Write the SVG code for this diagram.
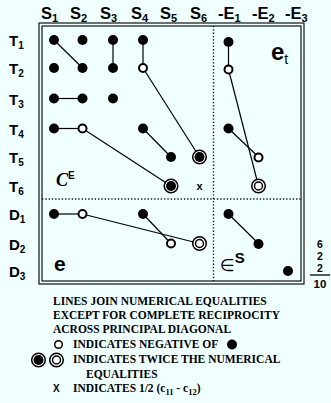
<svg xmlns="http://www.w3.org/2000/svg" width="331" height="403" viewBox="0 0 331 403">
<style>
.bg{fill:#F0FFFF}
.frame{fill:none;stroke:#111;stroke-width:1.2}
.div{stroke:#111;stroke-width:1.4;stroke-dasharray:1.3 2;fill:none}
.ln{stroke:#000;stroke-width:1.2;fill:none}
.f{fill:#000}
.o{fill:#fff;stroke:#000;stroke-width:2}
.dr{fill:#fff;stroke:#000;stroke-width:1.5}
.h{font-family:"Liberation Sans",Arial,sans-serif;font-weight:bold;font-size:15px;fill:#000}
.hh{font-size:16.5px}
.sub{font-size:10px}
.hh .sub{font-size:11px}
.lg{font-family:"Liberation Serif","Times New Roman",serif;font-weight:bold;font-size:11.5px;fill:#000}
.num{font-family:"Liberation Sans",Arial,sans-serif;font-weight:bold;font-size:10.5px;text-anchor:middle;fill:#000}
</style>
<defs>
<circle id="dot" r="5" class="f"/>
<circle id="open" r="4" class="o"/>
<g id="dfill"><circle r="6.8" class="dr"/><circle r="5" class="f"/></g>
<g id="dopen"><circle r="6.8" class="dr"/><circle r="4" class="dr"/></g>
</defs>
<rect class="bg" x="0" y="0" width="331" height="403"/>

<g id="headers" class="h hh">
<text x="41" y="19">S<tspan class="sub" dy="3">1</tspan></text>
<text x="70" y="19">S<tspan class="sub" dy="3">2</tspan></text>
<text x="100" y="19">S<tspan class="sub" dy="3">3</tspan></text>
<text x="131" y="19">S<tspan class="sub" dy="3">4</tspan></text>
<text x="160" y="19">S<tspan class="sub" dy="3">5</tspan></text>
<text x="190" y="19">S<tspan class="sub" dy="3">6</tspan></text>
<text x="218" y="19">-E<tspan class="sub" dy="3">1</tspan></text>
<text x="252" y="19">-E<tspan class="sub" dy="3">2</tspan></text>
<text x="285" y="19">-E<tspan class="sub" dy="3">3</tspan></text>
</g>
<g id="rowlabels" class="h">
<text x="9" y="46">T<tspan class="sub" dy="3">1</tspan></text>
<text x="9" y="74">T<tspan class="sub" dy="3">2</tspan></text>
<text x="9" y="104.5">T<tspan class="sub" dy="3">3</tspan></text>
<text x="9" y="134.5">T<tspan class="sub" dy="3">4</tspan></text>
<text x="9" y="163">T<tspan class="sub" dy="3">5</tspan></text>
<text x="9" y="192">T<tspan class="sub" dy="3">6</tspan></text>
<text x="9" y="220">D<tspan class="sub" dy="3">1</tspan></text>
<text x="9" y="249.5">D<tspan class="sub" dy="3">2</tspan></text>
<text x="9" y="277">D<tspan class="sub" dy="3">3</tspan></text>
</g>

<g id="frame">
<rect class="frame" x="39" y="23" width="265" height="261"/>
<rect class="frame" x="42" y="26" width="259" height="255"/>
<line class="div" x1="213.5" y1="26" x2="213.5" y2="281"/>
<line class="div" x1="42" y1="199" x2="301" y2="199"/>
</g>

<g id="connectors">
<line class="ln" x1="54" y1="40" x2="82.5" y2="68"/>
<line class="ln" x1="113" y1="40" x2="113" y2="68"/>
<line class="ln" x1="143" y1="40" x2="143" y2="68"/>
<line class="ln" x1="143" y1="68" x2="199.5" y2="157"/>
<line class="ln" x1="228.5" y1="42" x2="228.5" y2="69.5"/>
<line class="ln" x1="228.5" y1="69.5" x2="258.5" y2="186"/>
<line class="ln" x1="54" y1="98.5" x2="82.5" y2="98.5"/>
<line class="ln" x1="54" y1="128.5" x2="82.5" y2="128.5"/>
<line class="ln" x1="82.5" y1="128.5" x2="171" y2="186"/>
<line class="ln" x1="143" y1="128.5" x2="171" y2="157"/>
<line class="ln" x1="228.5" y1="128.5" x2="258.5" y2="157"/>
<line class="ln" x1="54" y1="214" x2="82.5" y2="214"/>
<line class="ln" x1="82.5" y1="214" x2="199.5" y2="243.5"/>
<line class="ln" x1="143" y1="214" x2="171" y2="243.5"/>
<line class="ln" x1="228.5" y1="214" x2="258.5" y2="243.5"/>
</g>

<g id="nodes">
<g id="n-T1-S1"><use href="#dot" x="54" y="40"/></g>
<g id="n-T1-S2"><use href="#dot" x="82.5" y="40"/></g>
<g id="n-T1-S3"><use href="#dot" x="113" y="40"/></g>
<g id="n-T1-S4"><use href="#dot" x="143" y="40"/></g>
<g id="n-T1-E1"><use href="#dot" x="228.5" y="42"/></g>
<g id="n-T2-S1"><use href="#dot" x="54" y="68"/></g>
<g id="n-T2-S2"><use href="#dot" x="82.5" y="68"/></g>
<g id="n-T2-S3"><use href="#dot" x="113" y="68"/></g>
<g id="n-T2-S4"><use href="#open" x="143" y="68"/></g>
<g id="n-T2-E1"><use href="#open" x="228.5" y="69.5"/></g>
<g id="n-T3-S1"><use href="#dot" x="54" y="98.5"/></g>
<g id="n-T3-S2"><use href="#dot" x="82.5" y="98.5"/></g>
<g id="n-T3-S3"><use href="#dot" x="113" y="98.5"/></g>
<g id="n-T4-S1"><use href="#dot" x="54" y="128.5"/></g>
<g id="n-T4-S2"><use href="#open" x="82.5" y="128.5"/></g>
<g id="n-T4-S4"><use href="#dot" x="143" y="128.5"/></g>
<g id="n-T4-E1"><use href="#dot" x="228.5" y="128.5"/></g>
<g id="n-T5-S5"><use href="#dot" x="171" y="157"/></g>
<g id="n-T5-S6"><use href="#dfill" x="199.5" y="157"/></g>
<g id="n-T5-E2"><use href="#open" x="258.5" y="157.5"/></g>
<g id="n-T6-S5"><use href="#dfill" x="171" y="186"/></g>
<g id="n-T6-S6"><text x="199.5" y="189.5" class="h" style="font-size:11px" text-anchor="middle">x</text></g>
<g id="n-T6-E2"><use href="#dopen" x="258.5" y="186"/></g>
<g id="n-D1-S1"><use href="#dot" x="54" y="214"/></g>
<g id="n-D1-S2"><use href="#open" x="82.5" y="214"/></g>
<g id="n-D1-S4"><use href="#dot" x="143" y="214"/></g>
<g id="n-D1-E1"><use href="#dot" x="228.5" y="214"/></g>
<g id="n-D2-S5"><use href="#open" x="171" y="243.5"/></g>
<g id="n-D2-S6"><use href="#dopen" x="199.5" y="243.5"/></g>
<g id="n-D2-E2"><use href="#dot" x="258.5" y="244"/></g>
<g id="n-D3-E3"><use href="#dot" x="288" y="271"/></g>
</g>

<g id="blocklabels">
<text x="271" y="60" style="font-family:'Liberation Sans',Arial,sans-serif;font-weight:bold;font-size:24px">e<tspan dy="4" style="font-weight:normal;font-size:14px">t</tspan></text>
<text x="56" y="186" style="font-family:'Liberation Serif','Times New Roman',serif;font-weight:bold;font-style:italic;font-size:18px">C<tspan dy="-7" style="font-family:'Liberation Sans',Arial,sans-serif;font-style:normal;font-size:10px">E</tspan></text>
<text x="54" y="271" style="font-family:'Liberation Sans',Arial,sans-serif;font-weight:bold;font-size:21px">e</text>
<text x="220" y="271" style="font-family:'DejaVu Sans',sans-serif;font-size:17px">∈<tspan dy="-8" style="font-family:'Liberation Sans',Arial,sans-serif;font-weight:bold;font-size:15px">S</tspan></text>
</g>

<g id="totals">
<text class="num" x="320" y="248">6</text>
<text class="num" x="320" y="260">2</text>
<text class="num" x="320" y="272">2</text>
<line x1="310" y1="275" x2="330" y2="275" stroke="#000" stroke-width="1.3"/>
<text class="num" x="320" y="288" style="font-size:11.5px">10</text>
</g>

<g id="legend" class="lg">
<text x="53" y="305">LINES JOIN NUMERICAL EQUALITIES</text>
<text x="53" y="319">EXCEPT FOR COMPLETE RECIPROCITY</text>
<text x="53" y="333">ACROSS PRINCIPAL DIAGONAL</text>
<circle cx="58.5" cy="344.5" r="3.8" fill="#fff" stroke="#000" stroke-width="1.5"/>
<text x="73" y="348">INDICATES NEGATIVE OF</text>
<circle cx="232" cy="344.5" r="5" fill="#000"/>
<use href="#dfill" x="38.5" y="360"/>
<use href="#dopen" x="56.5" y="360"/>
<text x="73" y="363">INDICATES TWICE THE NUMERICAL</text>
<text x="86" y="378">EQUALITIES</text>
<text x="53" y="392" style="font-family:'Liberation Sans',Arial,sans-serif;font-size:10px">X</text>
<text x="73" y="392">INDICATES 1/2 (c<tspan dy="3" style="font-size:8.5px">11</tspan><tspan dy="-3"> - c</tspan><tspan dy="3" style="font-size:8.5px">12</tspan><tspan dy="-3">)</tspan></text>
</g>
</svg>
